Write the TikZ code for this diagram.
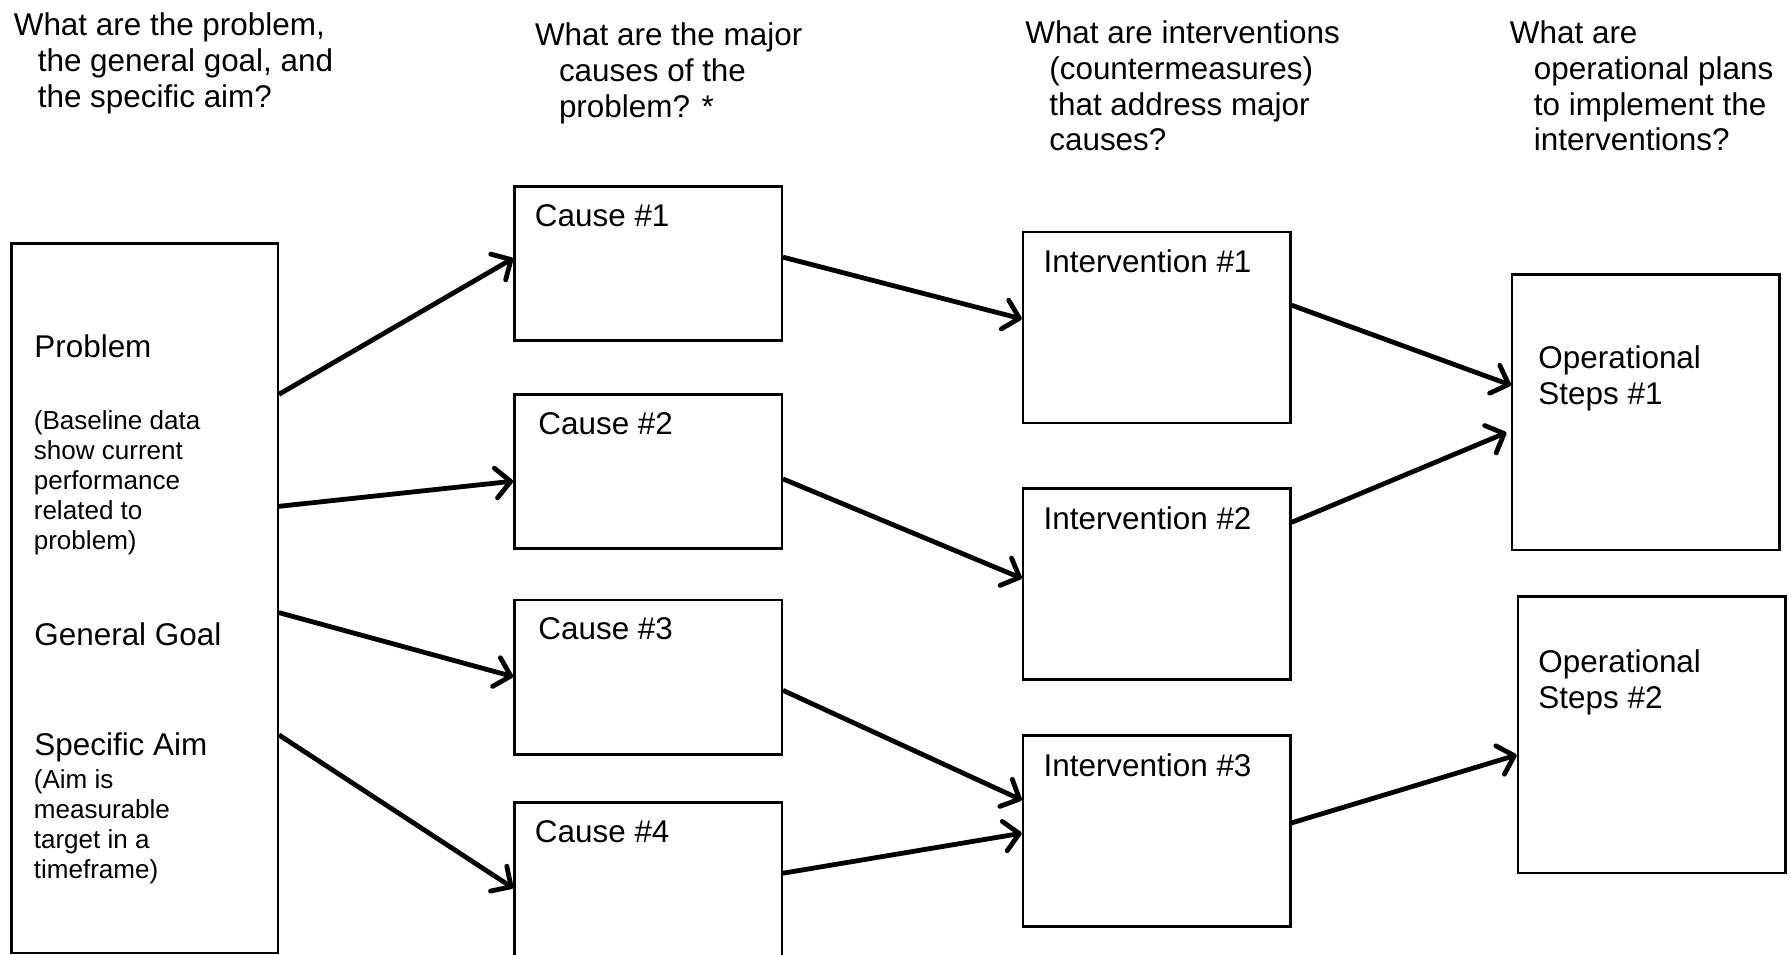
\documentclass[tikz,border=0pt]{standalone}
\usepackage{fontspec}
\setmainfont{Liberation Sans}
\usetikzlibrary{arrows.meta}

\newcommand{\mainsize}{\fontsize{27.5}{31.3}\selectfont}
\newcommand{\notesize}{\fontsize{22.8}{26.2}\selectfont}
\newcommand{\hd}{\hspace*{21pt}}

\begin{document}
\begin{tikzpicture}[
                x=1pt, y=-1pt,
                every node/.style={font=\mainsize, inner sep=0pt},
                box/.style={draw, line width=2.1pt, minimum width=234pt},
                head/.style={anchor=north west, align=left},
                txt/.style={anchor=base west},
                note/.style={anchor=north west, align=left, font=\notesize},
                lbl/.style={anchor=north west, inner xsep=17pt, inner ysep=14.5pt, align=left},
                ->, >={Straight Barb[length=13pt, width=26pt, round]},
                line width=4.2pt
                ]
                \useasboundingbox (0,0) rectangle (1567,835);

                % Define the questions
                \node[head] (q1) at (10,9) {What are the problem,\\\hd the general goal, and\\\hd the specific aim?};
                \node[head] (q2) at (466,18) {What are the major\\\hd causes of the\\\hd problem? *};
                \node[head] (q3) at (895,16) {What are interventions\\\hd (countermeasures)\\\hd that address major\\\hd causes?};
                \node[head] (q4) at (1319,16) {What are\\\hd operational plans\\\hd to implement the\\\hd interventions?};

                % Define the nodes
                \node[box, minimum width=233pt, minimum height=620.8pt] (prob) at (126.5,523.4) {};
                \node[txt] (problem) at (28,313) {Problem};
                \node[note] (baseline) at (27.5,357.4) {(Baseline data\\show current\\performance\\related to\\problem)};
                \node[txt] (goal) at (28,565) {General Goal};
                \node[txt] (aim) at (28,661) {Specific Aim};
                \node[note] (aimnote) at (27.5,671.5) {(Aim is\\measurable\\target in a\\timeframe)};

                \node[box, minimum height=135pt, label={[lbl]north west:Cause \#1}] (c1) at (567,230.5) {};
                \node[box, minimum height=135pt, label={[lbl, xshift=3pt]north west:Cause \#2}] (c2) at (567,412.5) {};
                \node[box, minimum height=135pt, label={[lbl, xshift=3pt]north west:Cause \#3}] (c3) at (567,592.5) {};
                \node[box, minimum height=135pt, label={[lbl]north west:Cause \#4}] (c4) at (567,769.5) {};

                \node[box, minimum height=167pt, label={[lbl]north west:Intervention \#1}] (i1) at (1012,286.5) {};
                \node[box, minimum height=167pt, label={[lbl]north west:Intervention \#2}] (i2) at (1012,511) {};
                \node[box, minimum height=167pt, label={[lbl]north west:Intervention \#3}] (i3) at (1012,727) {};

                \node[box, minimum height=241pt, label={[lbl, xshift=5pt, yshift=-47pt]north west:Operational\\Steps \#1}] (o1) at (1440,360.5) {};
                \node[box, minimum height=242pt, label={[lbl, yshift=-31pt]north west:Operational\\Steps \#2}] (o2) at (1445,643) {};

                % Draw the arrows
                \draw ([yshift=178.4pt]prob.east) -- ([yshift=4.5pt]c1.west);
                \draw ([yshift=80.4pt]prob.east) -- ([yshift=-8.5pt]c2.west);
                \draw ([yshift=-12.6pt]prob.east) -- ([yshift=0.5pt]c3.west);
                \draw ([yshift=-119.6pt]prob.east) -- ([yshift=-7.5pt]c4.west);
                \draw ([yshift=5.5pt]c1.east) -- ([yshift=7.5pt]i1.west);
                \draw ([yshift=-6.5pt]c2.east) -- ([yshift=5pt]i2.west);
                \draw ([yshift=-11.5pt]c3.east) -- ([yshift=27pt]i3.west);
                \draw ([yshift=5.5pt]c4.east) -- ([yshift=-2pt]i3.west);
                \draw ([yshift=19.5pt]i1.east) -- ([yshift=23.5pt]o1.west);
                \draw ([yshift=54pt]i2.east) -- ([xshift=-4pt, yshift=-18pt]o1.west);
                \draw ([yshift=7pt]i3.east) -- ([yshift=-17.6pt]o2.west);
            \end{tikzpicture}
\end{document}
